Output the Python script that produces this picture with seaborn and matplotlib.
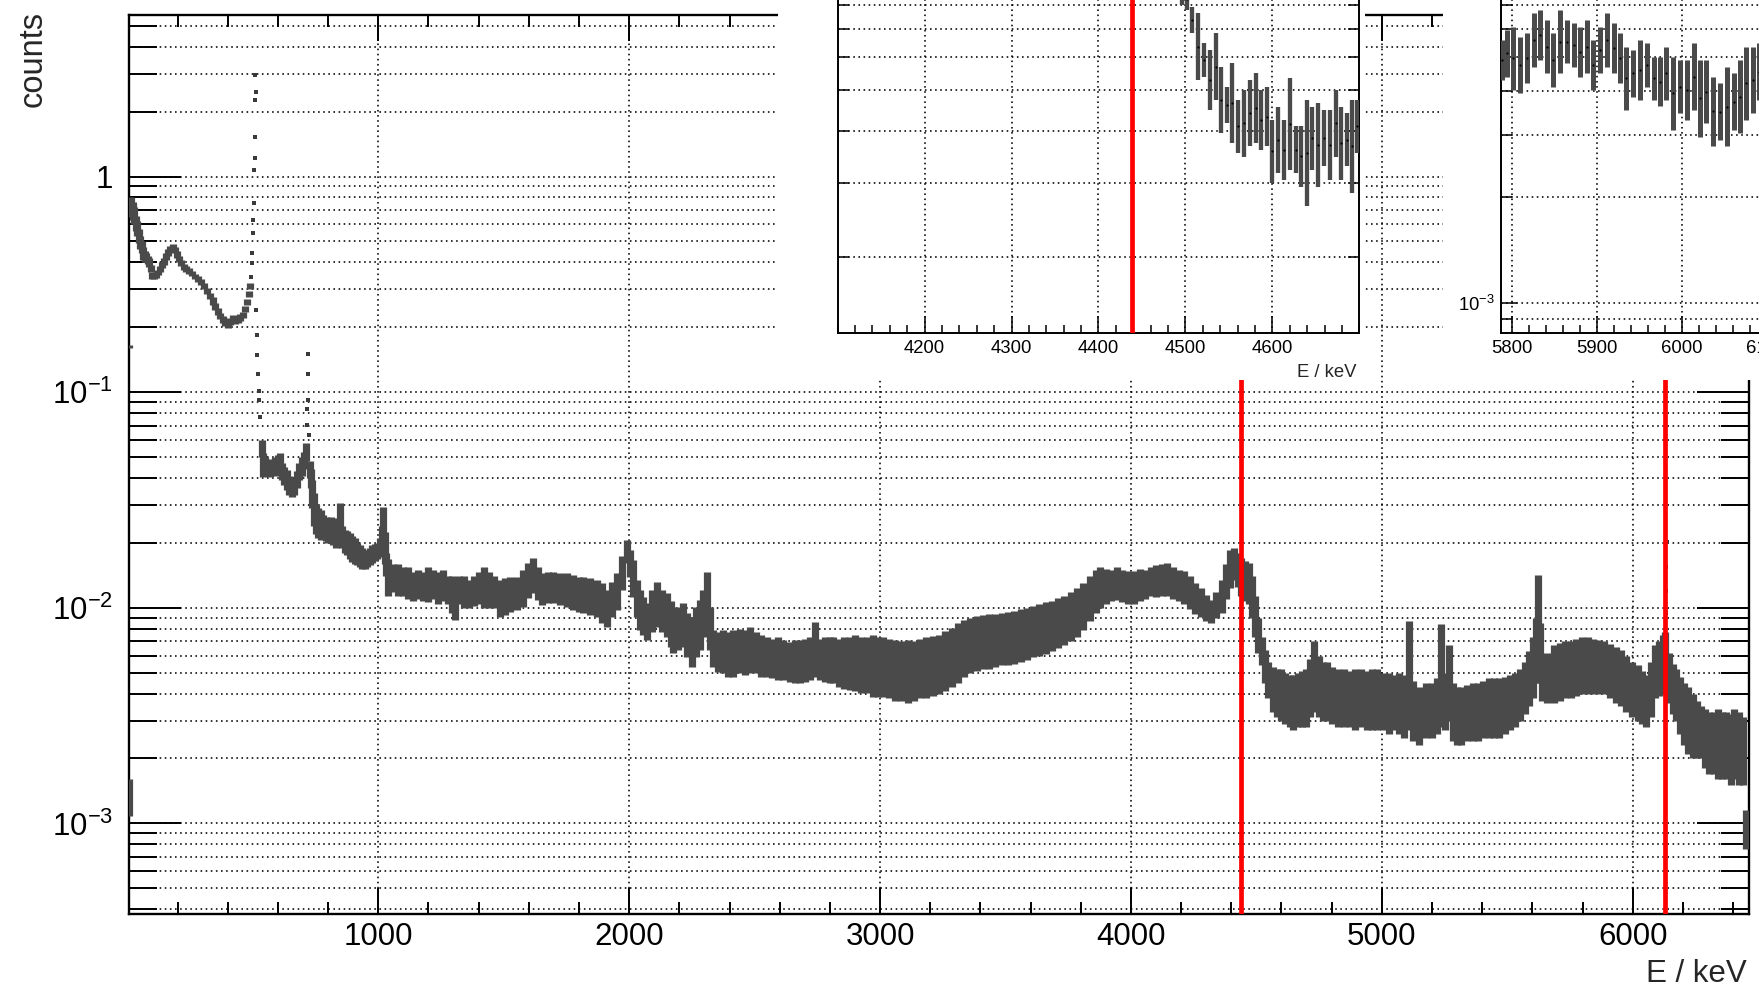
import numpy as np
import matplotlib
matplotlib.use("Agg")
import matplotlib.pyplot as plt
import seaborn as sns
from matplotlib.patches import Rectangle
from matplotlib.ticker import (LogLocator, NullFormatter, FixedLocator,
                               MultipleLocator, FuncFormatter)

# ---------------------------------------------------------------------------
# Spectrum: (energy / keV, lower end of error bar, upper end of error bar)
# ---------------------------------------------------------------------------
edge_bins = [(6, 0.160, 0.166), (7, 0.00108, 0.0016)]

spec_below_511 = [
    (10, 0.65, 0.78), (16, 0.66, 0.80), (22, 0.63, 0.76), (28, 0.60, 0.72),
    (34, 0.56, 0.66), (40, 0.53, 0.62), (46, 0.49, 0.57), (52, 0.46, 0.53),
    (58, 0.44, 0.50), (64, 0.41, 0.47), (70, 0.40, 0.45), (76, 0.40, 0.44),
    (82, 0.395, 0.43), (88, 0.38, 0.42), (94, 0.36, 0.39), (100, 0.335, 0.36),
    (108, 0.335, 0.355), (116, 0.34, 0.36), (124, 0.35, 0.37), (132, 0.36, 0.385),
    (140, 0.375, 0.40), (148, 0.39, 0.42), (156, 0.41, 0.44), (164, 0.43, 0.46),
    (172, 0.445, 0.475), (180, 0.455, 0.485), (188, 0.44, 0.47), (196, 0.42, 0.45),
    (204, 0.40, 0.43), (214, 0.385, 0.41), (224, 0.37, 0.395), (234, 0.36, 0.385),
    (244, 0.355, 0.375), (256, 0.345, 0.365), (268, 0.335, 0.355), (280, 0.325, 0.345),
    (292, 0.315, 0.335), (304, 0.30, 0.32), (316, 0.285, 0.305), (328, 0.27, 0.29),
    (340, 0.255, 0.275), (350, 0.24, 0.26), (360, 0.228, 0.245), (370, 0.218, 0.234),
    (380, 0.21, 0.225), (390, 0.203, 0.218), (400, 0.198, 0.212), (410, 0.205, 0.22),
    (420, 0.212, 0.228), (430, 0.207, 0.222), (440, 0.21, 0.225), (450, 0.214, 0.23),
    (460, 0.22, 0.236), (468, 0.235, 0.252), (476, 0.255, 0.272), (484, 0.275, 0.295),
    (490, 0.30, 0.32),
]

spec_535_1035 = [
    (535, 0.050, 0.060), (542, 0.0406, 0.052), (550, 0.041, 0.050), (560, 0.0415, 0.049),
    (570, 0.0406, 0.0485), (580, 0.041, 0.048), (590, 0.042, 0.050), (600, 0.042, 0.051),
    (608, 0.041, 0.052), (616, 0.039, 0.047), (626, 0.037, 0.045), (636, 0.0352, 0.0436),
    (646, 0.0335, 0.041), (656, 0.0325, 0.038), (666, 0.0335, 0.040), (676, 0.036, 0.043),
    (686, 0.039, 0.047), (696, 0.041, 0.050), (704, 0.044, 0.053), (712, 0.048, 0.058),
    (727, 0.040, 0.048), (732, 0.036, 0.044), (737, 0.029, 0.039), (743, 0.024, 0.034),
    (750, 0.022, 0.030), (760, 0.021, 0.029), (770, 0.0206, 0.0284), (780, 0.021, 0.027),
    (790, 0.0205, 0.0265), (800, 0.020, 0.026), (810, 0.0199, 0.0264), (820, 0.0195, 0.025),
    (830, 0.019, 0.0245), (840, 0.0195, 0.026), (848, 0.0205, 0.0305), (856, 0.019, 0.024),
    (866, 0.018, 0.023), (876, 0.0175, 0.0227), (886, 0.0168, 0.0222), (896, 0.0163, 0.0215),
    (906, 0.016, 0.021), (916, 0.0158, 0.0200), (926, 0.0155, 0.0195), (936, 0.0152, 0.0190),
    (946, 0.0152, 0.0185), (956, 0.0154, 0.0185), (966, 0.0158, 0.0190), (976, 0.0162, 0.0195),
    (986, 0.0165, 0.0198), (996, 0.0168, 0.0200), (1006, 0.0172, 0.0210), (1014, 0.0178, 0.0240),
    (1020, 0.0190, 0.0295), (1026, 0.0160, 0.0225), (1032, 0.0140, 0.0180),
]

spec_1040_1480 = [
    (1040, 0.0113, 0.0168), (1060, 0.0118, 0.0160), (1080, 0.0113, 0.0160), (1100, 0.0113, 0.0154),
    (1120, 0.0110, 0.0154), (1140, 0.0108, 0.0147), (1160, 0.0110, 0.0150), (1180, 0.0108, 0.0147),
    (1200, 0.0106, 0.0154), (1220, 0.0110, 0.0150), (1240, 0.0104, 0.0147), (1260, 0.0108, 0.0150),
    (1280, 0.0104, 0.0141), (1295, 0.0095, 0.0141), (1307, 0.0088, 0.0135), (1320, 0.0104, 0.0141),
    (1340, 0.0100, 0.0141), (1360, 0.0100, 0.0135), (1380, 0.0102, 0.0141), (1400, 0.0104, 0.0147),
    (1420, 0.0100, 0.0154), (1440, 0.0100, 0.0147), (1460, 0.0100, 0.0141),
]

spec_1485_3013 = [
    (1485, 0.0091, 0.01346), (1505, 0.00926, 0.0137), (1525, 0.0096, 0.01395), (1552, 0.00977, 0.01395),
    (1575, 0.01012, 0.0150), (1598, 0.0111, 0.01608), (1618, 0.01168, 0.01698), (1635, 0.01087, 0.0155),
    (1652, 0.0103, 0.01445), (1675, 0.01049, 0.01472), (1698, 0.01049, 0.01472), (1725, 0.0103, 0.01445),
    (1751, 0.01012, 0.01445), (1775, 0.00977, 0.0142), (1800, 0.0096, 0.01395), (1817, 0.00942, 0.01395),
    (1845, 0.00926, 0.0137), (1871, 0.0091, 0.01346), (1890, 0.00847, 0.0130), (1910, 0.00818, 0.0121),
    (1930, 0.0091, 0.01322), (1950, 0.00977, 0.01445), (1970, 0.0121, 0.0173), (1990, 0.01608, 0.02065),
    (2005, 0.01395, 0.01854), (2017, 0.01127, 0.0167), (2030, 0.0091, 0.01346), (2043, 0.00789, 0.0121),
    (2057, 0.0075, 0.01127), (2070, 0.00709, 0.01049), (2090, 0.00775, 0.0121), (2110, 0.00818, 0.01322),
    (2130, 0.00775, 0.0121), (2150, 0.00734, 0.01168), (2165, 0.0066, 0.0107), (2176, 0.00615, 0.00977),
    (2196, 0.00637, 0.01012), (2216, 0.0066, 0.01049), (2232, 0.00593, 0.00942), (2249, 0.00533, 0.0091),
    (2265, 0.00593, 0.01012), (2282, 0.00637, 0.01087), (2296, 0.00734, 0.0121), (2309, 0.00847, 0.01472),
    (2322, 0.00637, 0.01012), (2336, 0.00533, 0.00789), (2355, 0.00505, 0.00775), (2375, 0.00497, 0.00789),
    (2395, 0.0048, 0.00775), (2415, 0.0048, 0.00789), (2440, 0.00497, 0.0080), (2460, 0.0049, 0.00789),
    (2482, 0.00497, 0.00818), (2505, 0.00497, 0.00775), (2525, 0.0048, 0.0075), (2548, 0.0048, 0.00734),
    (2570, 0.0047, 0.0072), (2592, 0.00463, 0.00734), (2615, 0.00463, 0.00709), (2640, 0.00455, 0.00697),
    (2660, 0.00447, 0.00709), (2681, 0.00447, 0.00709), (2700, 0.00455, 0.0072), (2720, 0.00463, 0.00734),
    (2741, 0.0048, 0.00862), (2760, 0.00463, 0.0072), (2780, 0.00455, 0.00734), (2800, 0.00447, 0.00734),
    (2814, 0.00447, 0.00734), (2835, 0.0043, 0.0072), (2858, 0.0042, 0.00734), (2880, 0.00416, 0.00734),
    (2900, 0.0041, 0.0075), (2925, 0.00401, 0.00734), (2947, 0.00401, 0.00734), (2970, 0.00387, 0.0075),
    (2990, 0.00387, 0.00734), (3013, 0.00387, 0.00734),
]

spec_3035_3860 = [
    (3035, 0.0038, 0.0072), (3060, 0.0037, 0.0071), (3085, 0.0037, 0.0070), (3110, 0.0036, 0.0071),
    (3135, 0.0037, 0.0070), (3160, 0.0038, 0.0072), (3185, 0.0038, 0.0073), (3210, 0.0039, 0.0074),
    (3235, 0.0040, 0.0075), (3260, 0.0041, 0.0078), (3285, 0.0043, 0.0081), (3310, 0.0045, 0.0085),
    (3335, 0.0048, 0.0088), (3360, 0.0050, 0.0090), (3385, 0.0051, 0.0092), (3410, 0.0052, 0.0093),
    (3435, 0.0052, 0.0094), (3460, 0.0053, 0.0094), (3485, 0.0054, 0.0095), (3510, 0.0054, 0.0096),
    (3535, 0.0055, 0.0097), (3560, 0.0056, 0.0099), (3585, 0.0057, 0.0100), (3610, 0.0059, 0.0102),
    (3635, 0.0060, 0.0104), (3660, 0.0061, 0.0106), (3685, 0.0063, 0.0108), (3710, 0.0065, 0.0111),
    (3735, 0.0067, 0.0114), (3760, 0.0070, 0.0118), (3785, 0.0073, 0.0123), (3810, 0.0079, 0.0130),
    (3835, 0.0087, 0.0140), (3860, 0.0095, 0.0150),
]

spec_3877_6452 = [
    (3877, 0.00996, 0.0155), (3900, 0.0104, 0.0152), (3920, 0.0107, 0.0150), (3944, 0.0109, 0.0155),
    (3965, 0.0106, 0.0150), (3988, 0.0104, 0.0148), (4011, 0.0104, 0.0148), (4035, 0.0108, 0.0152),
    (4058, 0.0110, 0.0150), (4078, 0.0114, 0.0155), (4100, 0.0112, 0.0158), (4122, 0.0113, 0.0160),
    (4145, 0.0114, 0.0162), (4168, 0.0110, 0.0155), (4190, 0.0107, 0.0150), (4212, 0.0104, 0.0148),
    (4235, 0.0099, 0.0140), (4257, 0.0094, 0.0130), (4279, 0.0091, 0.0124), (4300, 0.0087, 0.0115),
    (4320, 0.0085, 0.0109), (4340, 0.0090, 0.0118), (4362, 0.0095, 0.0135), (4380, 0.0110, 0.0160),
    (4396, 0.0124, 0.0185), (4410, 0.0135, 0.0190), (4425, 0.0125, 0.0180), (4438, 0.0114, 0.0170),
    (4455, 0.0108, 0.0165), (4471, 0.0104, 0.0162), (4484, 0.0090, 0.0140), (4496, 0.0073, 0.0114),
    (4508, 0.0062, 0.0090), (4521, 0.0054, 0.0073), (4534, 0.0045, 0.0064), (4547, 0.0038, 0.0056),
    (4565, 0.0033, 0.0053), (4582, 0.0031, 0.0052), (4597, 0.0030, 0.0052), (4615, 0.0029, 0.0050),
    (4632, 0.0028, 0.0049), (4647, 0.0027, 0.0049), (4665, 0.0028, 0.0050), (4682, 0.0028, 0.0051),
    (4697, 0.0028, 0.0052), (4715, 0.0031, 0.0058), (4731, 0.0033, 0.0070), (4748, 0.0031, 0.0060),
    (4765, 0.0030, 0.0056), (4781, 0.0030, 0.0056), (4800, 0.0029, 0.0053), (4824, 0.0028, 0.0052),
    (4848, 0.0028, 0.0052), (4872, 0.0028, 0.0051), (4895, 0.0027, 0.0052), (4915, 0.0028, 0.0052),
    (4940, 0.0027, 0.0051), (4960, 0.0027, 0.0052), (4982, 0.0027, 0.0052), (5005, 0.0027, 0.0050),
    (5027, 0.0026, 0.0050), (5049, 0.0027, 0.0049), (5070, 0.0026, 0.0050), (5090, 0.0025, 0.0049),
    (5108, 0.0027, 0.0087), (5125, 0.0024, 0.0046), (5150, 0.0023, 0.0043), (5175, 0.0025, 0.0045),
    (5200, 0.0025, 0.0045), (5220, 0.0026, 0.0047), (5237, 0.0028, 0.0084), (5252, 0.0027, 0.0050),
    (5267, 0.0030, 0.0067), (5285, 0.0024, 0.0045), (5300, 0.0023, 0.0043), (5317, 0.0023, 0.0043),
    (5340, 0.0024, 0.0044), (5362, 0.0024, 0.0045), (5384, 0.0024, 0.0045), (5405, 0.0025, 0.0046),
    (5426, 0.0025, 0.0047), (5447, 0.0025, 0.0047), (5468, 0.0025, 0.0047), (5490, 0.0026, 0.0048),
    (5510, 0.0027, 0.0049), (5530, 0.0028, 0.0050), (5552, 0.0030, 0.0052), (5570, 0.0032, 0.0056),
    (5588, 0.0035, 0.0063), (5602, 0.0038, 0.0073), (5614, 0.0045, 0.0090), (5622, 0.0060, 0.0142),
    (5630, 0.0045, 0.0085), (5640, 0.0037, 0.0060), (5660, 0.0036, 0.0062), (5686, 0.0036, 0.0067),
    (5710, 0.0037, 0.0069), (5732, 0.0038, 0.0070), (5752, 0.0038, 0.0070), (5775, 0.0039, 0.0072),
    (5798, 0.0040, 0.0073), (5820, 0.0040, 0.0073), (5842, 0.0040, 0.0072), (5865, 0.0040, 0.0071),
    (5887, 0.0040, 0.0070), (5910, 0.0038, 0.0068), (5932, 0.0036, 0.0066), (5954, 0.0035, 0.0064),
    (5975, 0.0033, 0.0060), (5998, 0.0031, 0.0056), (6021, 0.0030, 0.0054), (6038, 0.0029, 0.0051),
    (6054, 0.0028, 0.0049), (6071, 0.0031, 0.0056), (6088, 0.0038, 0.0067), (6105, 0.0039, 0.0070),
    (6120, 0.0040, 0.0075), (6128, 0.0042, 0.0077), (6145, 0.0036, 0.0062), (6160, 0.0032, 0.0055),
    (6171, 0.0030, 0.0052), (6190, 0.0026, 0.0048), (6205, 0.0023, 0.0045), (6222, 0.0021, 0.0043),
    (6240, 0.0020, 0.0040), (6255, 0.0020, 0.0037), (6272, 0.0020, 0.0035), (6290, 0.0018, 0.0034),
    (6305, 0.0017, 0.0033), (6322, 0.0017, 0.0033), (6340, 0.0016, 0.0034), (6355, 0.0016, 0.0033),
    (6372, 0.0016, 0.0033), (6390, 0.0015, 0.0032), (6405, 0.0016, 0.0034), (6423, 0.0015, 0.0033),
    (6440, 0.0015, 0.0031), (6452, 0.00076, 0.00115),
]

# single high-statistics bins on the steep peak flanks: (energy / keV, counts)
peak_bins = [
    (493, 0.343), (495, 0.396), (497, 0.441), (499, 0.546), (501, 0.629), (503, 0.752),
    (505, 1.07), (507, 1.22), (508, 1.53), (509, 2.27), (510, 2.96), (511, 2.48),
    (514, 0.241), (516, 0.184), (518, 0.149), (520, 0.122), (523, 0.101), (526, 0.092),
    (530, 0.077),
    (716, 0.0705), (718, 0.084), (719, 0.092), (720, 0.122), (721, 0.151), (723, 0.063),
    (6131, 0.0095), (6133, 0.0120), (6134, 0.0155), (6135, 0.0201),
]

# finer binning around the two gamma lines (energy / keV, lower, upper)
detail_4439 = [
    (4490, 0.0090, 0.0135), (4496, 0.0080, 0.0110), (4502, 0.0078, 0.0088), (4508, 0.00685, 0.00793),
    (4515, 0.00529, 0.00764), (4521, 0.00539, 0.00648), (4528, 0.00449, 0.00625), (4535, 0.00474, 0.00685),
    (4541, 0.00395, 0.00570), (4548, 0.00417, 0.00510), (4554, 0.00374, 0.00581), (4561, 0.00354, 0.00474),
    (4567, 0.00347, 0.00501), (4574, 0.00367, 0.00529), (4581, 0.00374, 0.00549), (4587, 0.00360, 0.00501),
    (4594, 0.00367, 0.00510), (4600, 0.00300, 0.00425), (4607, 0.00317, 0.00457), (4613, 0.00305, 0.00425),
    (4620, 0.00323, 0.00534), (4627, 0.00317, 0.00410), (4633, 0.00294, 0.00410), (4640, 0.00264, 0.00474),
    (4646, 0.00323, 0.00457), (4653, 0.00294, 0.00466), (4659, 0.00329, 0.00449), (4666, 0.00305, 0.00449),
    (4673, 0.00347, 0.00501), (4679, 0.00305, 0.00457), (4686, 0.00329, 0.00441), (4692, 0.00284, 0.00474),
    (4697, 0.00354, 0.00474),
]

detail_6129 = [
    (5788, 0.00429, 0.00558), (5794, 0.00439, 0.00595), (5802, 0.00402, 0.00608), (5810, 0.00393, 0.00570),
    (5818, 0.00420, 0.00583), (5826, 0.00468, 0.00664), (5833, 0.00489, 0.00679), (5841, 0.00448, 0.00636),
    (5849, 0.00411, 0.00583), (5857, 0.00448, 0.00679), (5865, 0.00479, 0.00636), (5873, 0.00468, 0.00622),
    (5880, 0.00439, 0.00608), (5888, 0.00448, 0.00636), (5896, 0.00402, 0.00558), (5904, 0.00448, 0.00608),
    (5912, 0.00468, 0.00664), (5920, 0.00448, 0.00622), (5927, 0.00420, 0.00583), (5935, 0.00353, 0.00534),
    (5943, 0.00385, 0.00523), (5951, 0.00377, 0.00558), (5959, 0.00411, 0.00546), (5967, 0.00377, 0.00500),
    (5975, 0.00361, 0.00500), (5982, 0.00377, 0.00534), (5990, 0.00309, 0.00500), (5998, 0.00345, 0.00489),
    (6006, 0.00330, 0.00489), (6014, 0.00353, 0.00546), (6022, 0.00296, 0.00489), (6029, 0.00323, 0.00489),
    (6037, 0.00278, 0.00439), (6045, 0.00290, 0.00420), (6053, 0.00278, 0.00468), (6061, 0.00309, 0.00448),
    (6069, 0.00303, 0.00489), (6076, 0.00330, 0.00534), (6084, 0.00345, 0.00534), (6091, 0.00377, 0.00546),
]

gamma_lines_keV = [4439, 6129]

# ---------------------------------------------------------------------------
sns.set_theme(style="white")
plt.rcParams["font.family"] = ["Liberation Sans", "DejaVu Sans"]
plt.rcParams["mathtext.fontset"] = "custom"
plt.rcParams["mathtext.rm"] = "Liberation Sans"
plt.rcParams["mathtext.it"] = "Liberation Sans:italic"
plt.rcParams["mathtext.bf"] = "Liberation Sans:bold"

BAND = "#4a4a4a"
GRID = dict(color="black", linestyle=(0, (1, 2.2)), linewidth=1.15)


def rows_to_arrays(rows):
    arr = np.array(rows, dtype=float)
    return arr[:, 0], arr[:, 1], arr[:, 2]


main_rows = (edge_bins + spec_below_511 + spec_535_1035 + spec_1040_1480 +
             spec_1485_3013 + spec_3035_3860 + spec_3877_6452)
E_main, lo_main, hi_main = rows_to_arrays(main_rows)
peak_arr = np.array(peak_bins, dtype=float)
E_d1, lo_d1, hi_d1 = rows_to_arrays(detail_4439)
E_d2, lo_d2, hi_d2 = rows_to_arrays(detail_6129)


def draw_bins(ax, E, lo, hi, lw, dot=None):
    ax.vlines(E, lo, hi, colors=BAND, linewidth=lw, zorder=3)
    if dot:
        sns.scatterplot(x=E, y=np.sqrt(lo * hi), ax=ax, s=dot, color="black",
                        linewidth=0, zorder=3.5, legend=False)


def draw_peaks(ax, size=8):
    sns.scatterplot(x=peak_arr[:, 0], y=peak_arr[:, 1], ax=ax, s=size, marker="s",
                    color="#3a3a3a", linewidth=0, zorder=3.6, legend=False)


def log_label(v, pos):
    if v <= 0:
        return ""
    e = int(round(np.log10(v)))
    if e == 0:
        return "1"
    if e == 1:
        return "10"
    return r"$10^{%d}$" % e


def style_log_axis(ax, xmajor, xminor, maj_x, min_x, maj_y, min_y, tw, lsize, xpad, ypad,
                   ylabels=True):
    ax.set_yscale("log")
    ax.xaxis.set_major_locator(xmajor)
    ax.xaxis.set_minor_locator(xminor)
    ax.yaxis.set_major_locator(LogLocator(base=10, numticks=30))
    ax.yaxis.set_minor_locator(LogLocator(base=10, subs=np.arange(2, 10) * 1.0, numticks=30))
    ax.yaxis.set_major_formatter(FuncFormatter(log_label) if ylabels else NullFormatter())
    ax.yaxis.set_minor_formatter(NullFormatter())
    ax.tick_params(axis="both", which="both", direction="in", top=True, right=True,
                   bottom=True, left=True, colors="black", width=tw, labelsize=lsize)
    ax.tick_params(axis="x", which="major", length=maj_x, pad=xpad)
    ax.tick_params(axis="x", which="minor", length=min_x)
    ax.tick_params(axis="y", which="major", length=maj_y, pad=ypad)
    ax.tick_params(axis="y", which="minor", length=min_y)
    ax.grid(True, which="major", axis="x", **GRID)
    ax.grid(True, which="both", axis="y", **GRID)
    ax.set_axisbelow(True)
    ax.set_xlabel("")
    ax.set_ylabel("")
    for s in ax.spines.values():
        s.set_color("black")
        s.set_linewidth(tw + 0.3)
        s.set_visible(True)


W, H = 1759, 993
fig = plt.figure(figsize=(W / 100, H / 100), dpi=100)
fig.patch.set_facecolor("white")

# main spectrum
ax = fig.add_axes([128.6 / W, 1 - 914 / H, 1620.8 / W, 899 / H])
draw_bins(ax, E_main, lo_main, hi_main, lw=5.2)
draw_peaks(ax)
for g in gamma_lines_keV:
    ax.axvline(g, color="red", linewidth=3.4, zorder=4)
style_log_axis(ax, MultipleLocator(1000), MultipleLocator(200),
               maj_x=18.5, min_x=8.5, maj_y=37.5, min_y=20, tw=1.4,
               lsize=22.5, xpad=6, ypad=11)
ax.set_xlim(5, 6465)
ax.set_ylim(3.80e-4, 5.617)

fig.text(33 / W, 1 - 11 / H, "counts", rotation=90, ha="center", va="top", fontsize=23.5)
fig.text(1747 / W, (H - 981.7) / H, "E / keV", ha="right", va="baseline", fontsize=22.5)

# white pads behind the two zoomed views
for x0, x1 in [(778, 1365), (1443, 1800)]:
    fig.add_artist(Rectangle((x0 / W, 1 - 380 / H), (x1 - x0) / W, 0.5,
                             transform=fig.transFigure, facecolor="white",
                             edgecolor="none", zorder=2))

# zoom around 4439 keV
ax1 = fig.add_axes([837.6 / W, 1 - 332.7 / H, 521.7 / W, 482.7 / H], zorder=3)
ax1.set_facecolor("white")
upper = E_main < 4490
draw_bins(ax1, E_main[upper], lo_main[upper], hi_main[upper], lw=10)
draw_bins(ax1, E_d1, lo_d1, hi_d1, lw=3.1, dot=2.5)
ax1.axvline(gamma_lines_keV[0], color="red", linewidth=3.4, zorder=4)
style_log_axis(ax1, FixedLocator([4200, 4300, 4400, 4500, 4600]), MultipleLocator(20),
               maj_x=12, min_x=5.5, maj_y=11.3, min_y=7.7, tw=1.1,
               lsize=13.3, xpad=5.5, ypad=4.3, ylabels=False)
ax1.set_xlim(4100, 4700)
ax1.set_ylim(1.315e-3, 0.01879)
fig.text(1356.7 / W, (H - 377) / H, "E / keV", ha="right", va="baseline", fontsize=13.3)

# zoom around 6129 keV
ax2 = fig.add_axes([1501 / W, 1 - 332.7 / H, 512.6 / W, 482.7 / H], zorder=3)
ax2.set_facecolor("white")
lower = E_main > 6091
draw_bins(ax2, E_main[lower], lo_main[lower], hi_main[lower], lw=10)
draw_bins(ax2, E_d2, lo_d2, hi_d2, lw=3.6, dot=2.5)
ax2.axvline(gamma_lines_keV[1], color="red", linewidth=3.4, zorder=4)
style_log_axis(ax2, MultipleLocator(100), MultipleLocator(20),
               maj_x=12, min_x=5.5, maj_y=11.3, min_y=7.7, tw=1.1,
               lsize=13.3, xpad=5.5, ypad=4.3)
ax2.set_xlim(5787.4, 6390.4)
ax2.set_ylim(8.22e-4, 0.01932)

fig.savefig("out.png", dpi=100, facecolor="white")
